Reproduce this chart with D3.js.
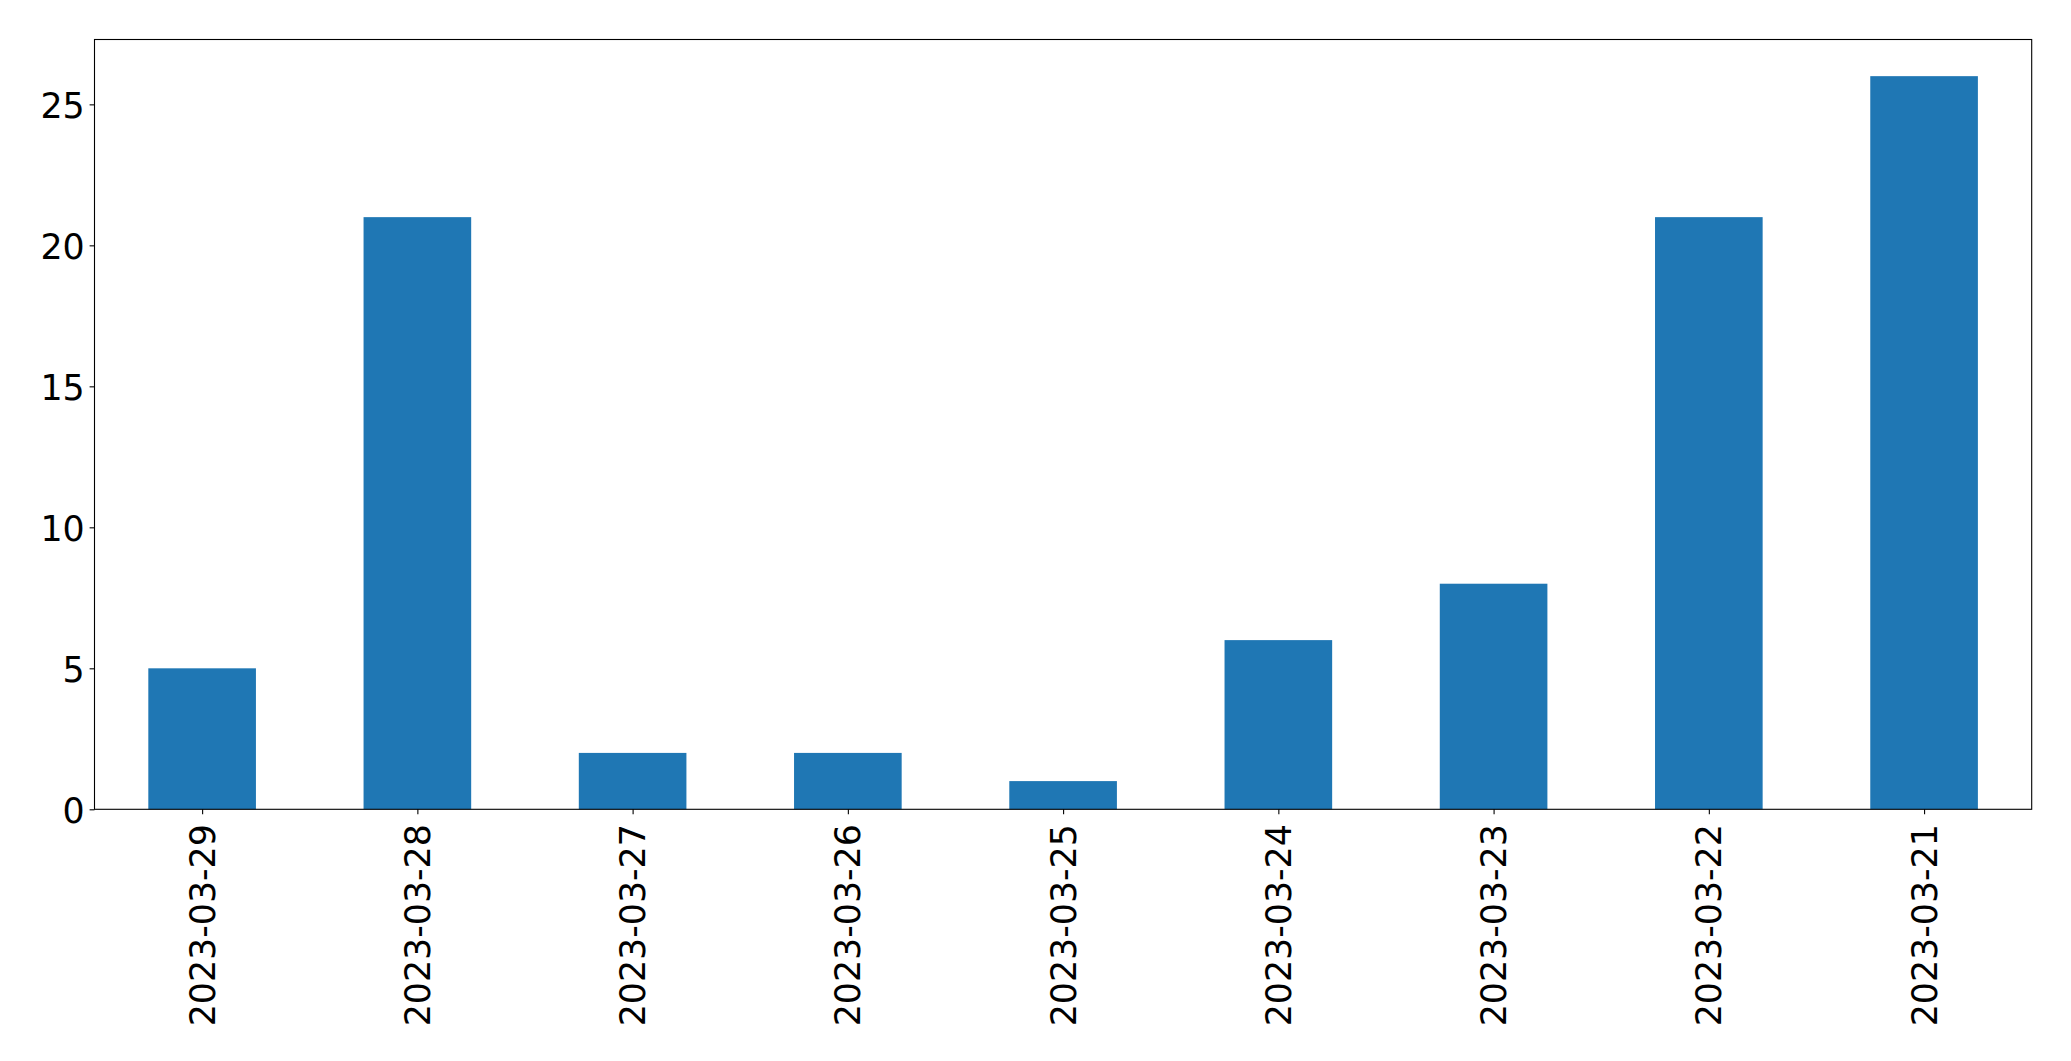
<!DOCTYPE html>
<html>
<head>
<meta charset="utf-8">
<script src="https://cdn.jsdelivr.net/npm/d3@7"></script>
<style>
  html, body { margin: 0; padding: 0; background: #fff; }
  svg { display: block; }
  text { font-family: "DejaVu Sans", sans-serif; fill: #000; }
</style>
</head>
<body>
<svg id="chart" width="2071" height="1061"></svg>
<script>
const categories = ["2023-03-29","2023-03-28","2023-03-27","2023-03-26","2023-03-25","2023-03-24","2023-03-23","2023-03-22","2023-03-21"];
const values = [5, 21, 2, 2, 1, 6, 8, 21, 26];
const yTicks = [0, 5, 10, 15, 20, 25];

const W = 2071, H = 1061;
const margin = { left: 94.5, right: W - 2031.7, top: 39.5, bottom: H - 809.3 };
const fontSize = 34.8;
const tickLen = 4.9, tickPad = 4.9;

const svg = d3.select("#chart");
const innerW = W - margin.left - margin.right;
const innerH = H - margin.top - margin.bottom;

const x = d3.scaleLinear().domain([-0.5, categories.length - 0.5]).range([margin.left, margin.left + innerW]);
const y = d3.scaleLinear().domain([0, d3.max(values) * 1.05]).range([margin.top + innerH, margin.top]);
const barW = 0.5;

svg.append("g").selectAll("rect").data(values).join("rect")
  .attr("x", (d, i) => x(i - barW / 2))
  .attr("width", (d, i) => x(i + barW / 2) - x(i - barW / 2))
  .attr("y", d => y(d))
  .attr("height", d => y(0) - y(d))
  .attr("fill", "#1f77b4");

// frame
svg.append("rect")
  .attr("x", margin.left).attr("y", margin.top)
  .attr("width", innerW).attr("height", innerH)
  .attr("fill", "none").attr("stroke", "#000").attr("stroke-width", 1.1);

// y axis
const yAxis = d3.axisLeft(y).tickValues(yTicks).tickSize(tickLen).tickPadding(tickPad).tickFormat(d3.format("d"));
const gy = svg.append("g").attr("transform", `translate(${margin.left},0)`).call(yAxis);
gy.select(".domain").remove();
gy.selectAll(".tick line").attr("stroke", "#000").attr("stroke-width", 1.1);
gy.selectAll(".tick text")
  .attr("font-family", "DejaVu Sans").attr("font-size", fontSize)
  .attr("dy", 1.5).attr("dominant-baseline", "central").style("fill", "#000");

// x axis
const xAxis = d3.axisBottom(x).tickValues(d3.range(categories.length)).tickSize(tickLen).tickFormat(i => categories[i]);
const gx = svg.append("g").attr("transform", `translate(0,${margin.top + innerH})`).call(xAxis);
gx.select(".domain").remove();
gx.selectAll(".tick line").attr("stroke", "#000").attr("stroke-width", 1.1);
gx.selectAll(".tick text")
  .attr("font-family", "DejaVu Sans").attr("font-size", fontSize)
  .attr("y", 0).attr("dy", null)
  .attr("text-anchor", "end").attr("dominant-baseline", "central")
  .attr("transform", `translate(0,${tickLen + tickPad + 5}) rotate(-90)`)
  .style("fill", "#000");
</script>
</body>
</html>
